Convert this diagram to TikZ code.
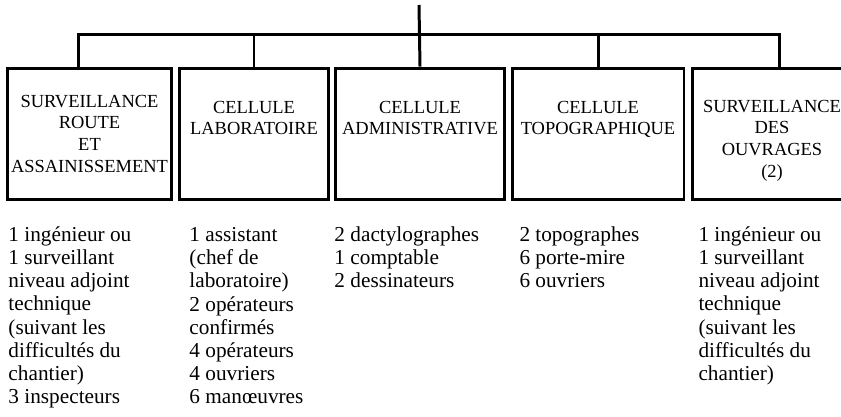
\documentclass[tikz,border=0pt]{standalone}
\usepackage{fontspec}
\setmainfont{Liberation Serif}
\usepackage{tikz}
\usetikzlibrary{positioning}

\begin{document}
\begin{tikzpicture}[x=0.02cm, y=-0.02cm, line width=1.7pt,
 unit/.style={draw, rectangle, minimum height=2.64cm, inner sep=0pt},
 unittext/.style={align=center, inner sep=0pt,
   font=\fontsize{10.5}{12.35}\selectfont},
 staff/.style={align=left, anchor=north west, inner sep=0pt,
   font=\fontsize{12.1}{13.2}\selectfont}]

  \useasboundingbox (0,0) rectangle (841,416);

  % the five units
  \node[unit, minimum width=3.3cm]  (sra)  at (89.5,134) {};
  \node[unit, minimum width=3.0cm]  (lab)  at (254,134) {};
  \node[unit, minimum width=3.4cm]  (adm)  at (420,134) {};
  \node[unit, minimum width=3.44cm] (topo) at (598,134) {};
  \node[unit, minimum width=3.2cm]  (ouv)  at (772,134) {};

  \node[unittext, below=0.54cm of sra.north]  (sraT)
    {SURVEILLANCE\\ROUTE\\ET\\ASSAINISSEMENT};
  \node[unittext, below=0.66cm of lab.north]  (labT)
    {CELLULE\\LABORATOIRE};
  \node[unittext, below=0.66cm of adm.north]  (admT)
    {CELLULE\\ADMINISTRATIVE};
  \node[unittext, below=0.66cm of topo.north] (topoT)
    {CELLULE\\TOPOGRAPHIQUE};
  \node[unittext, below=0.64cm of ouv.north]  (ouvT)
    {SURVEILLANCE\\DES\\OUVRAGES\\(2)};

  % links
  \coordinate (top) at (419,5);
  \draw (top) -- (adm.north);
  \draw ([xshift=-0.22cm]sra.north) -- ++(0,-32) -| ([xshift=0.14cm]ouv.north);
  \foreach \n in {lab,topo}
    \draw (\n.north) -- ++(0,-32);

  % staff under each unit
  \node[staff] (sraS) at (7,225)
    {1 ingénieur ou\\1 surveillant\\niveau adjoint\\technique\\(suivant les\\difficultés du\\chantier)\\3 inspecteurs};
  \node[staff] (labS) at (188,226)
    {1 assistant\\(chef de\\laboratoire)\\2 opérateurs\\confirmés\\4 opérateurs\\4 ouvriers\\6 manœuvres};
  \node[staff] (admS) at (333,225)
    {2 dactylographes\\1 comptable\\2 dessinateurs};
  \node[staff] (topoS) at (518,225)
    {2 topographes\\6 porte-mire\\6 ouvriers};
  \node[staff] (ouvS) at (697,225)
    {1 ingénieur ou\\1 surveillant\\niveau adjoint\\technique\\(suivant les\\difficultés du\\chantier)};
\end{tikzpicture}
\end{document}
